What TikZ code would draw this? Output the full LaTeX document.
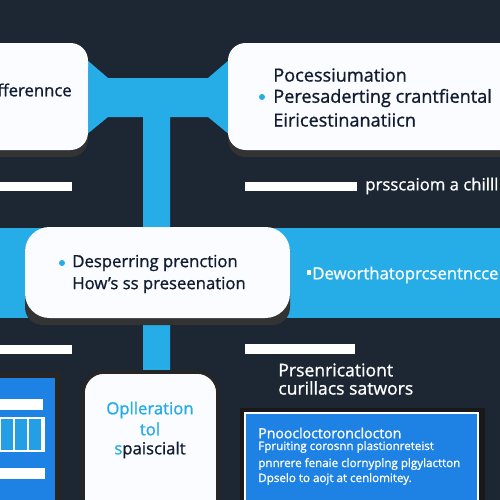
\documentclass[tikz,border=0pt]{standalone}
\usepackage{fontspec}
\setmainfont{Open Sans}
\newfontfamily\medfont{Open Sans}[FakeBold=1]

\definecolor{bgdark}{RGB}{28,39,51}
\definecolor{linkblue}{RGB}{38,172,230}
\definecolor{panelblue}{RGB}{30,130,228}
\definecolor{inkdark}{RGB}{18,28,48}
\definecolor{boxwhite}{RGB}{250,252,255}

\begin{document}
\begin{tikzpicture}[x=0.2mm,y=-0.2mm,
	card/.style={fill=boxwhite, rounded corners=10},
	shade/.style={fill=black!80, rounded corners=10},
	whitebar/.style={fill=white},
	dark/.style={text=inkdark, inner sep=0pt, font=\medfont\fontsize{9.5}{11}\selectfont},
	big/.style={dark, font=\medfont\fontsize{10.3}{12}\selectfont},
	light/.style={text=white, inner sep=0pt, font=\medfont\fontsize{9.5}{11}\selectfont},
	tiny/.style={text=white, inner sep=0pt, font=\medfont\fontsize{6.6}{8}\selectfont},
	dot/.style={fill=linkblue}]
		\clip (0,0) rectangle (500,500);
		\fill[bgdark] (0,0) rectangle (500,500);
		% blue connector
		\fill[linkblue] (80,54) -- (108,78) -- (208,78) -- (236,54) -- (236,140) -- (208,117) -- (170,117) -- (170,372) -- (143,372) -- (143,117) -- (108,117) -- (80,140) -- cycle;
		\fill[linkblue] (0,228) rectangle (500,318);
		% top boxes
		\fill[shade] (-30,50) rectangle (88,157);
		\fill[card] (-30,43) rectangle (88,150);
		\node[dark, anchor=west] (diff) at (-3,90) {fferennce};
		\fill[shade] (228,50) rectangle (530,157);
		\fill[card] (228,43) rectangle (530,150);
		\node[big, anchor=west] (procA) at (273,75) {Pocessiumation};
		\node[big, anchor=west] (procB) at (273,98) {Peresaderting crantfiental};
		\node[big, anchor=west] (procC) at (273,120) {Eiricestinanatiicn};
		\fill[dot] (262,97) circle (3);
		% bars
		\fill[whitebar] (0,182) rectangle (72,191);
		\fill[whitebar] (245,182) rectangle (357,191);
		\node[light, anchor=west] (chill) at (365,186) {prsscaiom a chilll};
		% middle box
		\fill[shade] (25,234) rectangle (290,325);
		\fill[card, rounded corners=14] (25,227) rectangle (290,318);
		\fill[dot] (62,263) circle (3);
		\node[dark, anchor=west] (despA) at (72,263) {Desperring prenction};
		\node[dark, anchor=west] (despB) at (72,285) {How’s ss preseenation};
		\fill[white] (307,270) rectangle (311,275);
		\node[light, anchor=west] (dewo) at (312,275) {Deworthatoprcsentncce};
		\fill[whitebar] (0,345) rectangle (72,354);
		\fill[whitebar] (245,344) rectangle (355,354);
		\node[light, anchor=west, font=\medfont\fontsize{10}{12}\selectfont] (presA) at (278,370) {Prsenricationt};
		\node[light, anchor=west, font=\medfont\fontsize{10}{12}\selectfont] (presB) at (278,388) {curillacs satwors};
		% bottom left panel
		\fill[black!85] (0,372) rectangle (61,505);
		\fill[panelblue] (0,378) rectangle (55,505);
		\fill[whitebar] (0,399) rectangle (43,410);
		\fill[linkblue!70!panelblue] (0,418) rectangle (44,451);
		\draw[white, line width=0.6pt] (0,418) grid[xstep=14,ystep=11] (42,451);
		\draw[white, line width=0.6pt] (0,418) rectangle (44,451);
		\fill[whitebar] (0,468) rectangle (45,479);
		% bottom middle box
		\draw[card, draw=black!85, line width=2pt, rounded corners=12] (83,372) rectangle (218,520);
		\node[text=linkblue, inner sep=0pt, font=\medfont\fontsize{9.5}{11}\selectfont] (opA) at (150,410) {Oplleration};
		\node[text=linkblue, inner sep=0pt, font=\medfont\fontsize{9.5}{11}\selectfont] (opB) at (150,429) {tol};
		\node[dark] (opC) at (150,450) {\textcolor{linkblue}{s}paiscialt};
		% bottom right panel
		\fill[black!90] (240,408) rectangle (485,505);
		\draw[fill=panelblue, draw=white, line width=1pt] (245,413) rectangle (478,510);
		\node[tiny, anchor=west, font=\medfont\fontsize{8}{10}\selectfont] (noteA) at (258,433) {Pnoocloctoronclocton};
		\node[tiny, anchor=west] (noteB) at (258,447) {Fpruiting corosnn plastionreteist};
		\node[tiny, anchor=west] (noteC) at (258,464) {pnnrere fenaie clornyplng plgylactton};
		\node[tiny, anchor=west] (noteD) at (258,479) {Dpselo to aojt at cenlomitey.};
\end{tikzpicture}
\end{document}
